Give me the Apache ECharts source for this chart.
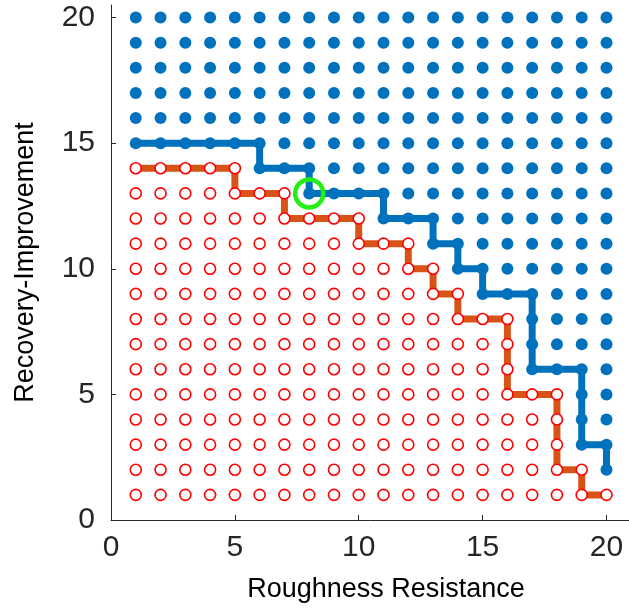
<!DOCTYPE html>
<html>
<head>
<meta charset="utf-8">
<script src="https://cdn.jsdelivr.net/npm/echarts@6/dist/echarts.min.js"></script>
<style>
html,body{margin:0;padding:0;background:#fff;}
#chart{width:629px;height:612px;}
</style>
</head>
<body>
<div id="chart"></div>
<script>
// Grid columns (Roughness Resistance) and rows (Recovery-Improvement)
const xValues = [1,2,3,4,5,6,7,8,9,10,11,12,13,14,15,16,17,18,19,20];
const yValues = [1,2,3,4,5,6,7,8,9,10,11,12,13,14,15,16,17,18,19,20];
// Lowest blue (filled) point in each column
const blueBottom = [15,15,15,15,15,14,14,13,13,13,12,12,11,10,9,9,6,6,3,2];
// Highest red (open) point in each column
const redTop = [14,14,14,14,14,13,13,12,12,12,11,11,10,9,8,8,5,5,2,1];
// Highlighted point
const highlight = [8, 13];
const xTicks = [0,5,10,15,20];
const yTicks = [0,5,10,15,20];
const xName = 'Roughness Resistance';
const yName = 'Recovery-Improvement';

const blueDots = [];
const redDots = [];
xValues.forEach((x, i) => {
  yValues.forEach(y => {
    if (y >= blueBottom[i]) blueDots.push([x, y]);
    if (y <= redTop[i]) redDots.push([x, y]);
  });
});
const blueLine = xValues.map((x, i) => [x, blueBottom[i]]);
const redLine = xValues.map((x, i) => [x, redTop[i]]);

const axisColor = '#262626';
const font = 'Liberation Sans, Arial, Helvetica, sans-serif';

const chart = echarts.init(document.getElementById('chart'), null, {renderer: 'canvas'});
chart.setOption({
  animation: false,
  backgroundColor: '#ffffff',
  grid: {left: 111, top: 5, width: 550, height: 515, containLabel: false, outerBoundsMode: 'none'},
  xAxis: {
    type: 'value', min: 0, max: 22.2,
    name: xName, nameLocation: 'middle', nameGap: 56,
    nameTextStyle: {fontFamily: font, fontSize: 27, color: '#000'},
    axisLine: {show: true, lineStyle: {color: axisColor, width: 1}},
    axisTick: {show: true, inside: true, length: 5, customValues: xTicks, lineStyle: {color: axisColor}},
    axisLabel: {customValues: xTicks, fontFamily: font, fontSize: 30, color: axisColor, margin: 13},
    splitLine: {show: false}
  },
  yAxis: {
    type: 'value', min: 0, max: 20.5,
    name: yName, nameLocation: 'middle', nameGap: 72,
    nameTextStyle: {fontFamily: font, fontSize: 27, color: '#000'},
    axisLine: {show: true, lineStyle: {color: axisColor, width: 1}},
    axisTick: {show: true, inside: true, length: 5, customValues: yTicks, lineStyle: {color: axisColor}},
    axisLabel: {customValues: yTicks, fontFamily: font, fontSize: 30, color: axisColor, margin: 16},
    splitLine: {show: false}
  },
  series: [
    {
      type: 'line', data: redLine, step: 'start', showSymbol: false, z: 2,
      lineStyle: {color: '#D95319', width: 7}, silent: true
    },
    {
      type: 'scatter', data: redDots, symbol: 'circle', symbolSize: 11, z: 3,
      itemStyle: {color: '#ffffff', borderColor: '#FF0000', borderWidth: 1.6, opacity: 1}
    },
    {
      type: 'scatter', data: blueDots, symbol: 'circle', symbolSize: 12, z: 3,
      itemStyle: {color: '#0072BD', opacity: 1}
    },
    {
      type: 'line', data: blueLine, step: 'end', showSymbol: false, z: 4,
      lineStyle: {color: '#0072BD', width: 7}, silent: true
    },
    {
      type: 'scatter', data: [highlight], symbol: 'circle', symbolSize: 28, z: 5,
      itemStyle: {color: 'rgba(0,0,0,0)', borderColor: '#22F011', borderWidth: 4.5, opacity: 1}
    }
  ]
});
</script>
</body>
</html>
